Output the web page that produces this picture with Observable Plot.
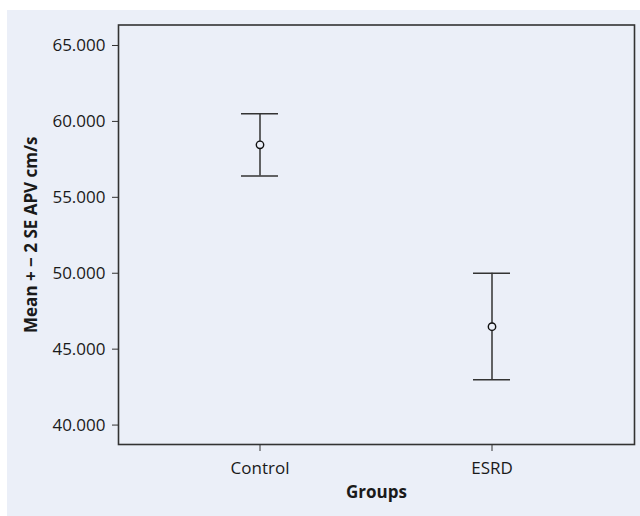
<!DOCTYPE html>
<html>
<head>
<meta charset="utf-8">
<script src="https://cdn.jsdelivr.net/npm/d3@7"></script>
<script src="https://cdn.jsdelivr.net/npm/@observablehq/plot@0.6"></script>
<style>
  html, body { margin: 0; padding: 0; background: #ffffff; }
  #chart { position: absolute; left: 7px; top: 10px; }
  #chart svg { display: block; }
</style>
</head>
<body>
<div id="chart"></div>
<script>
// Mean ± 2 SE of APV (cm/s) by group
const groups = ["Control", "ESRD"];
const means = [58.46, 46.48];
const lower = [56.40, 42.98];
const upper = [60.51, 50.00];
const yTicks = [40, 45, 50, 55, 60, 65];

const rows = groups.map((g, i) => ({group: g, mean: means[i], lower: lower[i], upper: upper[i]}));

const bg = "#ebeff8";
const ink = "#333333";
const fs = 17;

const chart = Plot.plot({
  width: 633,
  height: 506,
  marginLeft: 111,
  marginRight: 6,
  marginTop: 14.5,
  marginBottom: 72,
  style: {background: bg, fontFamily: "Open Sans, sans-serif", fontSize: `${fs}px`, color: "#1a1a1a"},
  // narrow bands: the band width sets the error-bar cap length
  x: {type: "band", domain: groups, paddingInner: 0.8405, paddingOuter: 0.532},
  y: {domain: [38.72, 66.35]},
  marks: [
    Plot.frame({stroke: ink, strokeWidth: 1.6}),
    Plot.axisY({ticks: yTicks, tickFormat: d3.format(".3f"), tickSize: 6, tickPadding: 7, fontSize: fs, label: null, stroke: ink}),
    Plot.axisX({tickSize: 7, tickPadding: 10, fontSize: fs, label: null, stroke: ink}),
    Plot.ruleX(rows, {x: "group", y1: "lower", y2: "upper", stroke: ink, strokeWidth: 1.5}),
    Plot.tickY(rows, {x: "group", y: "upper", stroke: ink, strokeWidth: 1.5}),
    Plot.tickY(rows, {x: "group", y: "lower", stroke: ink, strokeWidth: 1.5}),
    Plot.dot(rows, {x: "group", y: "mean", r: 3.7, stroke: "#111", strokeWidth: 1.4, fill: bg}),
    Plot.text(["Mean + \u2212 2 SE APV cm/s"], {frameAnchor: "left", textAnchor: "middle", lineAnchor: "middle", rotate: -90, dx: -87, fontWeight: "bold", fontSize: fs, fill: "#1a1a1a"}),
    Plot.text(["Groups"], {frameAnchor: "bottom", lineAnchor: "middle", dy: 48, fontWeight: "bold", fontSize: fs, fill: "#1a1a1a"})
  ]
});

document.getElementById("chart").appendChild(chart);
</script>
</body>
</html>
